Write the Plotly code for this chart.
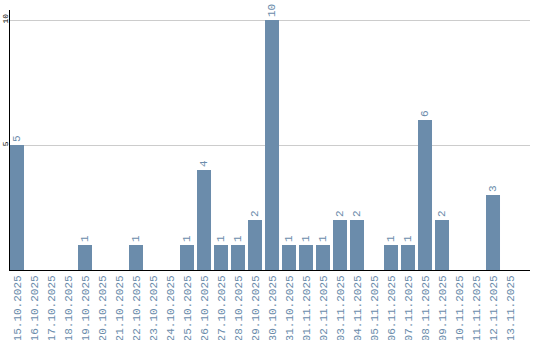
import plotly.graph_objects as go

dates = ["15.10.2025","16.10.2025","17.10.2025","18.10.2025","19.10.2025","20.10.2025",
         "21.10.2025","22.10.2025","23.10.2025","24.10.2025","25.10.2025","26.10.2025",
         "27.10.2025","28.10.2025","29.10.2025","30.10.2025","31.10.2025","01.11.2025",
         "02.11.2025","03.11.2025","04.11.2025","05.11.2025","06.11.2025","07.11.2025",
         "08.11.2025","09.11.2025","10.11.2025","11.11.2025","12.11.2025","13.11.2025"]
values = [5,0,0,0,1,0,0,1,0,0,1,4,1,1,2,10,1,1,1,2,2,0,1,1,6,2,0,0,3,0]
y_ticks = [5, 10]

color = "#6b8cab"
labels = [str(v) if v > 0 else "" for v in values]

fig = go.Figure(go.Bar(
    x=list(range(len(dates))), y=values, marker_color=color, marker_line_width=0,
    text=labels, textposition="outside", textangle=-90, cliponaxis=False,
    textfont=dict(family="Liberation Mono", size=11, color=color),
))
fig.update_layout(
    width=540, height=340, margin=dict(l=10, r=10, t=10, b=70),
    paper_bgcolor="white", plot_bgcolor="white", bargap=3/17, showlegend=False,
    xaxis=dict(range=[-0.412, 30.176], tickvals=list(range(len(dates))), ticktext=dates,
               tickangle=-90, showgrid=False, showline=True, linecolor="black", linewidth=1,
               ticks="", tickfont=dict(family="Liberation Mono", size=11, color=color),
               zeroline=False, automargin=False),
    yaxis=dict(range=[0, 10.4], tickvals=y_ticks, ticktext=[str(t) for t in y_ticks],
               tickangle=-90, showgrid=True, gridcolor="#cccccc", showline=True,
               linecolor="black", linewidth=1, ticks="", zeroline=False, automargin=False,
               tickfont=dict(family="Liberation Mono", size=8, color="black"), ticklabelstandoff=-2),
)
fig.write_html("out.html")
